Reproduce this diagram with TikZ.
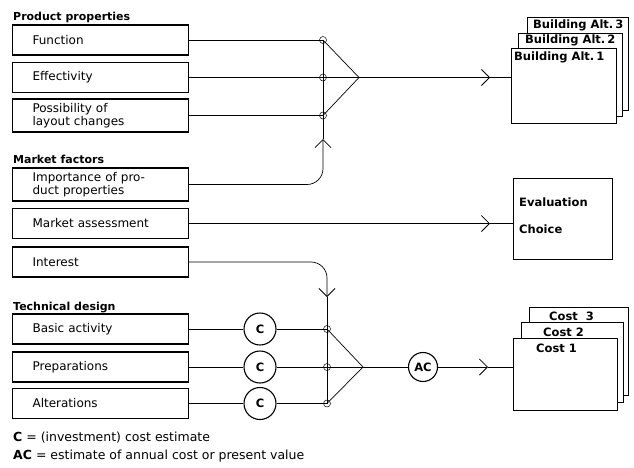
\documentclass[tikz,border=0pt]{standalone}
\usepackage{fontspec}
\setmainfont{DejaVu Sans}
\usetikzlibrary{arrows.meta}

\begin{document}
\begin{tikzpicture}[x=1pt, y=-1pt,
    factor/.style={draw, line width=1.1pt, anchor=west, minimum height=30pt,
        text width=136pt, inner xsep=20pt, align=left,
        font=\fontsize{12}{13}\selectfont},
    heading/.style={anchor=base west, inner sep=0pt, font=\bfseries\fontsize{11}{13}\selectfont},
    estim/.style={draw, circle, line width=1.1pt, inner sep=0pt,
        font=\bfseries\fontsize{11.5}{13}\selectfont},
    sheet/.style={draw, line width=1.1pt, fill=white, anchor=north west, inner sep=0pt},
    sheettext/.style={anchor=base west, inner sep=0pt, font=\bfseries\fontsize{11.5}{13}\selectfont},
    legend/.style={anchor=base west, inner sep=0pt, font=\fontsize{12.5}{14}\selectfont},
    link/.style={line width=0.7pt},
    barb/.style={-{Straight Barb[length=8pt, width=16pt, line width=0.8pt]}}]
    % 1. Picture frame
    \useasboundingbox (0,0) rectangle (634,467);

    % 2. Product properties
    \node[heading] (hprod) at (13,20) {Product properties};
    \node[factor] (fun) at (12,40) {Function};
    \node[factor] (eff) at (12,77.5) {Effectivity};
    \node[factor, minimum height=33pt] (pos) at (12,115.5) {Possibility of\\layout changes};

    % 3. Market factors
    \node[heading] (hmkt) at (13,163) {Market factors};
    \node[factor, minimum height=33pt] (imp) at (12,184.5) {Importance of pro-\\duct properties};
    \node[factor] (mkt) at (12,223.5) {Market assessment};
    \node[factor] (int) at (12,262) {Interest};

    % 4. Technical design
    \node[heading] (htec) at (13,310) {Technical design};
    \node[factor] (bas) at (12,329) {Basic activity};
    \node[factor] (pre) at (12,367) {Preparations};
    \node[factor] (alt) at (12,403.5) {Alterations};

    % 5. Cost estimates
    \node[estim, minimum size=32pt] (ce1) at (260,329) {C};
    \node[estim, minimum size=32pt] (ce2) at (260,367) {C};
    \node[estim, minimum size=32pt] (ce3) at (260,403.5) {C};
    \node[estim, minimum size=29pt] (ac) at (423,367) {AC};

    % 6. Result sheets
    \node[sheet, minimum width=101pt, minimum height=93pt] (bd3) at (527,17) {};
    \node[sheettext] (bt3) at (533,28) {Building Alt.\,3};
    \node[sheet, minimum width=104pt, minimum height=83pt] (bd2) at (518,33) {};
    \node[sheettext] (bt2) at (525,43) {Building Alt.\,2};
    \node[sheet, minimum width=105pt, minimum height=75pt] (bd1) at (511,48) {};
    \node[sheettext] (bt1) at (514,60) {Building Alt.\,1};

    \node[sheet, minimum width=99pt, minimum height=81pt] (eval) at (513,178) {};
    \node[sheettext] (et1) at (519,206) {Evaluation};
    \node[sheettext] (et2) at (519,233) {Choice};

    \node[sheet, minimum width=99pt, minimum height=88pt] (cs3) at (529,307) {};
    \node[sheettext] (ct3) at (549,320) {Cost\ \ 3};
    \node[sheet, minimum width=102pt, minimum height=80pt] (cs2) at (521,322) {};
    \node[sheettext] (ct2) at (543,336) {Cost 2};
    \node[sheet, minimum width=104pt, minimum height=72pt] (cs1) at (513,338) {};
    \node[sheettext] (ct1) at (536,352) {Cost 1};

    % 7. Junctions
    \coordinate (j1) at (323,40);
    \coordinate (j2) at (323,77.5);
    \coordinate (j3) at (323,115.5);
    \coordinate (apx1) at (359,77.5);
    \coordinate (up1) at (323,139);
    \coordinate (tip1) at (490,77.5);
    \coordinate (tip2) at (490,223.5);
    \coordinate (dn1) at (327,297);
    \coordinate (j4) at (327,329);
    \coordinate (j5) at (327,367);
    \coordinate (j6) at (327,403.5);
    \coordinate (apx2) at (363,367);
    \coordinate (tip3) at (488,367);

    % 8. Upper connectors
    \draw[link] (fun.east) -- (j1);
    \draw[link] (eff.east) -- (j2) -- (apx1);
    \draw[link] (pos.east) -- (j3);
    \draw[link] (j1) -- (apx1) -- (j3);
    \draw[link] (j1) -- (up1);
    \draw[link, barb, rounded corners=16pt] (imp.east) -- (imp.east -| j1) -- (up1);
    \draw[link, barb] (apx1) -- (tip1);
    \draw[link] (tip1) -- (tip1 -| bd1.west);
    \draw[link, barb] (mkt.east) -- (tip2);
    \draw[link] (tip2) -- (tip2 -| eval.west);

    % 9. Lower connectors
    \draw[link, barb, rounded corners=16pt] (int.east) -- (int.east -| j4) -- (dn1);
    \draw[link] (dn1) -- (j6);
    \draw[link] (bas.east) -- (ce1);
    \draw[link] (pre.east) -- (ce2);
    \draw[link] (alt.east) -- (ce3);
    \draw[link] (ce1) -- (j4);
    \draw[link] (ce2) -- (j5) -- (apx2);
    \draw[link] (ce3) -- (j6);
    \draw[link] (j4) -- (apx2) -- (j6);
    \draw[link] (apx2) -- (ac);
    \draw[link, barb] (ac) -- (tip3);
    \draw[link] (tip3) -- (tip3 -| cs1.west);

    % 10. Junction rings
    \foreach \j in {j1,j2,j3,j4,j5,j6}
        \draw[line width=0.5pt] (\j) circle (3.5pt);

    % 11. Legend
    \node[legend] (leg1) at (13,441) {\textbf{C} = (investment) cost estimate};
    \node[legend] (leg2) at (13,459) {\textbf{AC} = estimate of annual cost or present value};
\end{tikzpicture}
\end{document}
